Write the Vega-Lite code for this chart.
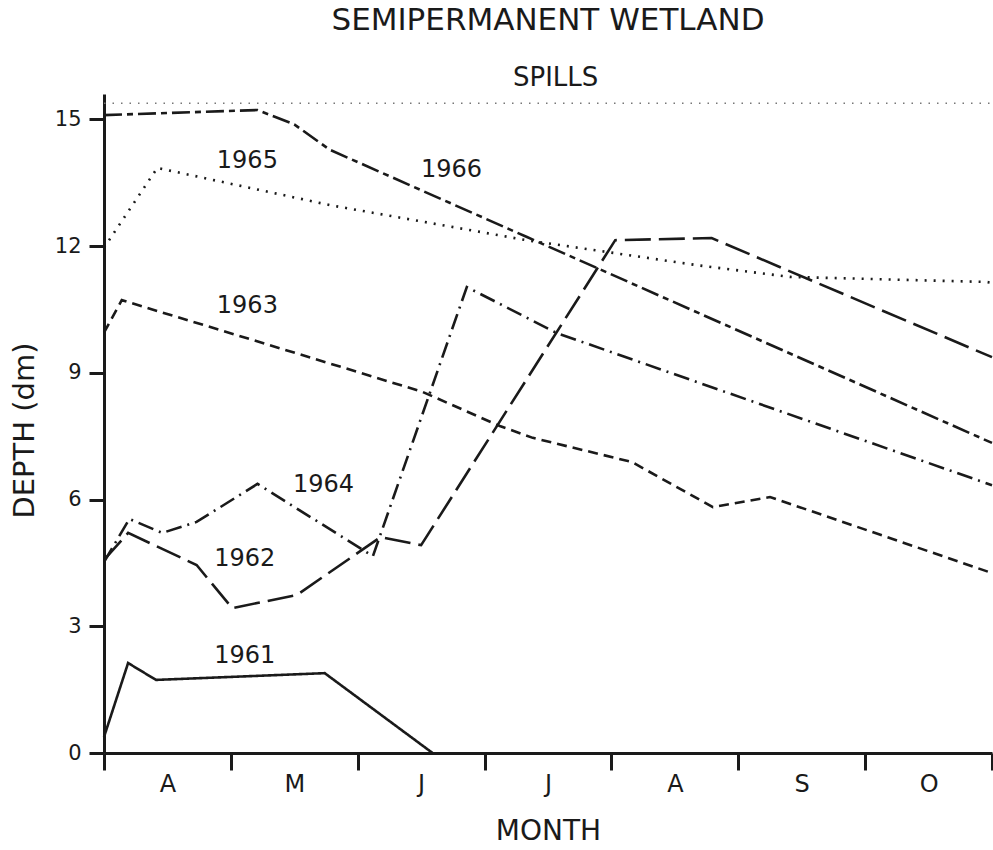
{
  "$schema": "https://vega.github.io/schema/vega-lite/v6.json",
  "autosize": {"type": "none"},
  "padding": {"left": 104, "top": 94, "right": 1, "bottom": 97},
  "width": 888,
  "height": 659,
  "background": "white",
  "title": {
    "text": "SEMIPERMANENT WETLAND",
    "anchor": "middle",
    "frame": "group",
    "baseline": "alphabetic",
    "offset": 4,
    "font": "DejaVu Sans",
    "fontSize": 31,
    "fontWeight": "normal",
    "color": "#1a1a1a"
  },
  "config": {
    "view": {"stroke": null},
    "axis": {"grid": false}
  },
  "datasets": {
    "series": [
      {"year": "1961", "month": 0, "depth": 0.38},
      {"year": "1961", "month": 0.19, "depth": 2.13},
      {"year": "1961", "month": 0.41, "depth": 1.73},
      {"year": "1961", "month": 1.74, "depth": 1.89},
      {"year": "1961", "month": 2.59, "depth": 0},
      {"year": "1962", "month": 0, "depth": 4.57},
      {"year": "1962", "month": 0.19, "depth": 5.21},
      {"year": "1962", "month": 0.73, "depth": 4.45},
      {"year": "1962", "month": 1.01, "depth": 3.43},
      {"year": "1962", "month": 1.52, "depth": 3.74},
      {"year": "1962", "month": 2.18, "depth": 5.11},
      {"year": "1962", "month": 2.5, "depth": 4.92},
      {"year": "1962", "month": 4.03, "depth": 12.14},
      {"year": "1962", "month": 4.79, "depth": 12.19},
      {"year": "1962", "month": 7.0, "depth": 9.37},
      {"year": "1963", "month": 0, "depth": 9.95},
      {"year": "1963", "month": 0.14, "depth": 10.72},
      {"year": "1963", "month": 1.17, "depth": 9.78},
      {"year": "1963", "month": 2.51, "depth": 8.55},
      {"year": "1963", "month": 3.12, "depth": 7.74},
      {"year": "1963", "month": 3.38, "depth": 7.46},
      {"year": "1963", "month": 4.16, "depth": 6.89},
      {"year": "1963", "month": 4.8, "depth": 5.82},
      {"year": "1963", "month": 5.25, "depth": 6.06},
      {"year": "1963", "month": 7.0, "depth": 4.26},
      {"year": "1964", "month": 0, "depth": 4.52},
      {"year": "1964", "month": 0.2, "depth": 5.54},
      {"year": "1964", "month": 0.46, "depth": 5.21},
      {"year": "1964", "month": 0.73, "depth": 5.47},
      {"year": "1964", "month": 1.21, "depth": 6.37},
      {"year": "1964", "month": 2.12, "depth": 4.66},
      {"year": "1964", "month": 2.86, "depth": 11.03},
      {"year": "1964", "month": 3.57, "depth": 9.94},
      {"year": "1964", "month": 7.0, "depth": 6.34},
      {"year": "1965", "month": 0, "depth": 11.96},
      {"year": "1965", "month": 0.42, "depth": 13.85},
      {"year": "1965", "month": 1.78, "depth": 12.97},
      {"year": "1965", "month": 3.33, "depth": 12.14},
      {"year": "1965", "month": 4.67, "depth": 11.55},
      {"year": "1965", "month": 5.41, "depth": 11.27},
      {"year": "1965", "month": 6.96, "depth": 11.15},
      {"year": "1965", "month": 7.0, "depth": 11.13},
      {"year": "1966", "month": 0, "depth": 15.1},
      {"year": "1966", "month": 1.21, "depth": 15.22},
      {"year": "1966", "month": 1.5, "depth": 14.88},
      {"year": "1966", "month": 1.78, "depth": 14.28},
      {"year": "1966", "month": 3.33, "depth": 12.22},
      {"year": "1966", "month": 7.0, "depth": 7.34}
    ],
    "spills": [
      {"month": 0, "depth": 15.38},
      {"month": 7, "depth": 15.38}
    ],
    "labels": [
      {"text": "1965", "month": 1.13, "depth": 14.02, "size": 24},
      {"text": "1966", "month": 2.74, "depth": 13.8, "size": 24},
      {"text": "1963", "month": 1.13, "depth": 10.58, "size": 24},
      {"text": "1964", "month": 1.73, "depth": 6.34, "size": 24},
      {"text": "1962", "month": 1.11, "depth": 4.59, "size": 24},
      {"text": "1961", "month": 1.11, "depth": 2.3, "size": 24},
      {"text": "SPILLS", "month": 3.56, "depth": 15.99, "size": 26}
    ]
  },
  "layer": [
    {
      "data": {"name": "spills"},
      "mark": {"type": "line", "stroke": "#777", "strokeWidth": 1.5, "strokeDash": [1.5, 7]},
      "encoding": {
        "x": {
          "field": "month", "type": "quantitative",
          "scale": {"domain": [0, 7], "nice": false, "zero": false},
          "axis": {
            "title": "MONTH",
            "values": [0, 0.5, 1, 1.5, 2, 2.5, 3, 3.5, 4, 4.5, 5, 5.5, 6, 6.5, 7],
            "labelExpr": "datum.value % 1 === 0 ? '' : ['A','M','J','J','A','S','O'][floor(datum.value)]",
            "tickOpacity": {"condition": {"test": "datum.value % 1 === 0", "value": 1}, "value": 0},
            "tickSize": 17,
            "tickWidth": 3,
            "tickColor": "#1a1a1a",
            "domainWidth": 3,
            "domainColor": "#1a1a1a",
            "labelFont": "DejaVu Sans",
            "labelFontSize": 24,
            "labelColor": "#1a1a1a",
            "labelBaseline": "alphabetic",
            "labelPadding": 21,
            "labelFlush": false,
            "labelOverlap": false,
            "titleFont": "DejaVu Sans",
            "titleFontSize": 28,
            "titleFontWeight": "normal",
            "titleColor": "#1a1a1a",
            "titleBaseline": "alphabetic",
            "titleAlign": "center",
            "titleX": 444,
            "titleY": 86
          }
        },
        "y": {
          "field": "depth", "type": "quantitative",
          "scale": {"domain": [0, 15.6], "nice": false},
          "axis": {
            "title": "DEPTH (dm)",
            "values": [0, 3, 6, 9, 12, 15],
            "tickSize": 15,
            "tickWidth": 3,
            "tickColor": "#1a1a1a",
            "domainWidth": 3,
            "domainColor": "#1a1a1a",
            "labelFont": "DejaVu Sans",
            "labelFontSize": 21,
            "labelColor": "#1a1a1a",
            "labelPadding": 8,
            "titleFont": "DejaVu Sans",
            "titleFontSize": 29,
            "titleFontWeight": "normal",
            "titleColor": "#1a1a1a",
            "titleBaseline": "alphabetic",
            "titleAlign": "center",
            "titleAngle": -90,
            "titleX": -71,
            "titleY": 336
          }
        }
      }
    },
    {
      "data": {"name": "series"},
      "mark": {"type": "line", "stroke": "#1a1a1a", "strokeWidth": 2.6},
      "encoding": {
        "x": {"field": "month", "type": "quantitative"},
        "y": {"field": "depth", "type": "quantitative"},
        "detail": {"field": "year", "type": "nominal"},
        "strokeDash": {
          "field": "year", "type": "nominal",
          "scale": {
            "domain": ["1961", "1962", "1963", "1964", "1965", "1966"],
            "range": [[1, 0], [26, 8], [10, 6], [16, 6, 2, 6], [2, 7], [18, 5, 6, 5]]
          },
          "legend": null
        }
      }
    },
    {
      "data": {"name": "labels"},
      "mark": {"type": "text", "font": "DejaVu Sans", "color": "#1a1a1a", "align": "center", "baseline": "middle"},
      "encoding": {
        "x": {"field": "month", "type": "quantitative"},
        "y": {"field": "depth", "type": "quantitative"},
        "text": {"field": "text", "type": "nominal"},
        "size": {"field": "size", "type": "quantitative", "scale": null}
      }
    }
  ]
}
